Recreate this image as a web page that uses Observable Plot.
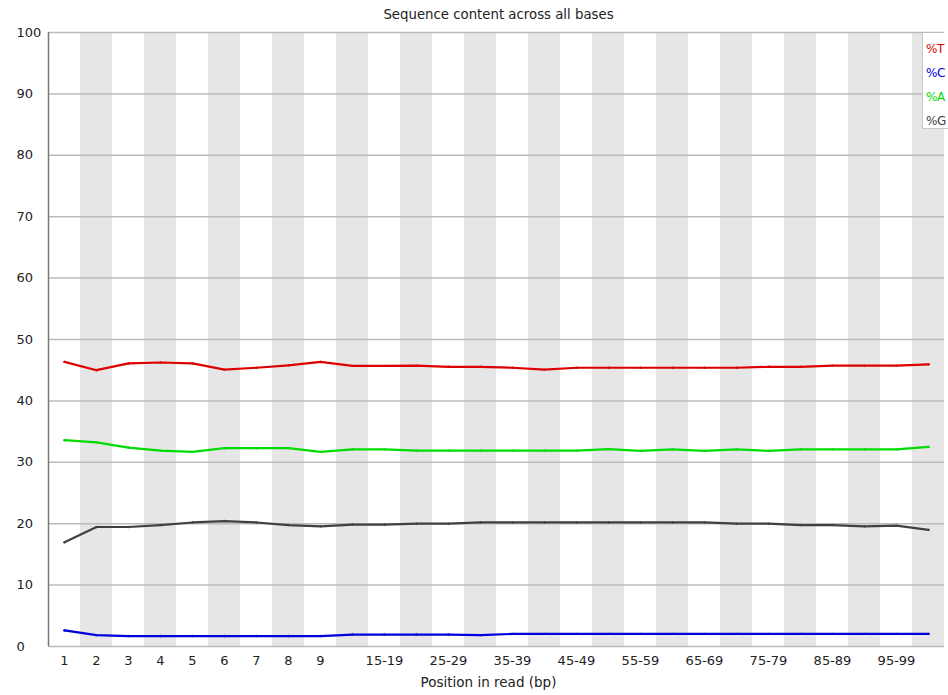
<!DOCTYPE html>
<html>
<head>
<meta charset="utf-8">
<script src="https://cdn.jsdelivr.net/npm/d3@7"></script>
<script src="https://cdn.jsdelivr.net/npm/@observablehq/plot@0.6"></script>
<style>
  html, body { margin: 0; padding: 0; background: #fff; overflow: hidden; }
  #wrap { position: relative; width: 948px; height: 695px; }
  #legend { position: absolute; left: 922px; top: 33px; width: 30px; height: 96px;
    background: #fff; border-left: 1px solid #c8c8c8; border-bottom: 1px solid #c8c8c8;
    font-family: "DejaVu Sans", sans-serif; font-size: 12px; box-sizing: border-box; }
  #legend div { position: absolute; left: 3px; letter-spacing: -0.5px; }
</style>
</head>
<body>
<div id="wrap"></div>
<script>
const title = "Sequence content across all bases";
const xLabel = "Position in read (bp)";
const categories = ["1","2","3","4","5","6","7","8","9","10-14","15-19","20-24","25-29","30-34","35-39","40-44","45-49","50-54","55-59","60-64","65-69","70-74","75-79","80-84","85-89","90-94","95-99","100-101"];
const xTickLabels = ["1","2","3","4","5","6","7","8","9","15-19","25-29","35-39","45-49","55-59","65-69","75-79","85-89","95-99"];
const yTicks = [0,10,20,30,40,50,60,70,80,90,100];
const seriesNames = ["%T","%C","%A","%G"];
const seriesColors = ["#dc0000","#0000dc","#00dc00","#404040"];
const pctT = [46.35,45.0,46.1,46.25,46.1,45.1,45.4,45.8,46.35,45.7,45.7,45.75,45.55,45.55,45.4,45.1,45.4,45.4,45.4,45.4,45.4,45.4,45.55,45.55,45.75,45.75,45.75,45.95];
const pctC = [2.62,1.86,1.7,1.7,1.7,1.7,1.7,1.7,1.7,1.95,1.95,1.95,1.95,1.85,2.05,2.05,2.05,2.05,2.05,2.05,2.05,2.05,2.05,2.05,2.05,2.05,2.05,2.05];
const pctA = [33.6,33.25,32.4,31.9,31.7,32.3,32.3,32.3,31.7,32.1,32.1,31.9,31.9,31.9,31.9,31.9,31.9,32.15,31.85,32.1,31.85,32.1,31.85,32.1,32.1,32.1,32.1,32.5];
const pctG = [16.96,19.46,19.46,19.78,20.2,20.43,20.2,19.78,19.57,19.84,19.84,20.0,20.0,20.2,20.2,20.2,20.2,20.2,20.2,20.2,20.2,20.0,20.0,19.78,19.78,19.57,19.68,19.0];

const seriesValues = [pctT, pctC, pctA, pctG];
const rows = [];
seriesNames.forEach((s, k) => seriesValues[k].forEach((v, i) => rows.push({series: s, i, v})));
const bands = categories.map((c, i) => ({i})).filter(d => d.i % 2 === 1);
const xTickIdx = xTickLabels.map(l => categories.indexOf(l));

const chart = Plot.plot({
  width: 948,
  height: 695,
  marginLeft: 48,
  marginRight: 4,
  marginTop: 32,
  marginBottom: 49,
  style: {fontFamily: "DejaVu Sans, sans-serif", fontSize: "13px", color: "#222", background: "#fff"},
  x: {type: "linear", domain: [-0.5, categories.length - 0.5], label: null},
  y: {domain: [0, 100], label: null},
  color: {domain: seriesNames, range: seriesColors},
  marks: [
    Plot.rectY(bands, {x1: d => d.i - 0.5, x2: d => d.i + 0.5, y1: 0, y2: 100, fill: "#e6e6e6"}),
    Plot.ruleY(yTicks, {stroke: "#bbbbbb", strokeWidth: 1.5}),
    Plot.ruleX([-0.5], {y1: 0, y2: 100, stroke: "#777", strokeWidth: 1.5}),
    Plot.axisY(yTicks, {tickSize: 0, tickPadding: 0, textAnchor: "start", dx: -32, fill: "#222"}),
    Plot.axisX(xTickIdx, {tickSize: 0, tickPadding: 9, tickFormat: i => categories[i], fill: "#222", style: {letterSpacing: "1px"}}),
    Plot.line(rows, {x: "i", y: "v", z: "series", stroke: "series", strokeWidth: 2.2}),
    Plot.dot(rows, {x: "i", y: "v", fill: "series", r: 1.2}),
    Plot.text([title], {frameAnchor: "top", lineAnchor: "middle", dy: -18, dx: 2, fontSize: 13.3, fill: "#222"}),
    Plot.text([xLabel], {frameAnchor: "bottom", lineAnchor: "middle", dy: 36, dx: -8, fontSize: 13.5, fill: "#222"})
  ]
});

const wrap = document.getElementById("wrap");
wrap.appendChild(chart);
const legend = document.createElement("div");
legend.id = "legend";
seriesNames.forEach((s, k) => {
  const d = document.createElement("div");
  d.textContent = s;
  d.style.color = seriesColors[k];
  d.style.top = (9 + k * 24) + "px";
  legend.appendChild(d);
});
wrap.appendChild(legend);
</script>
</body>
</html>
